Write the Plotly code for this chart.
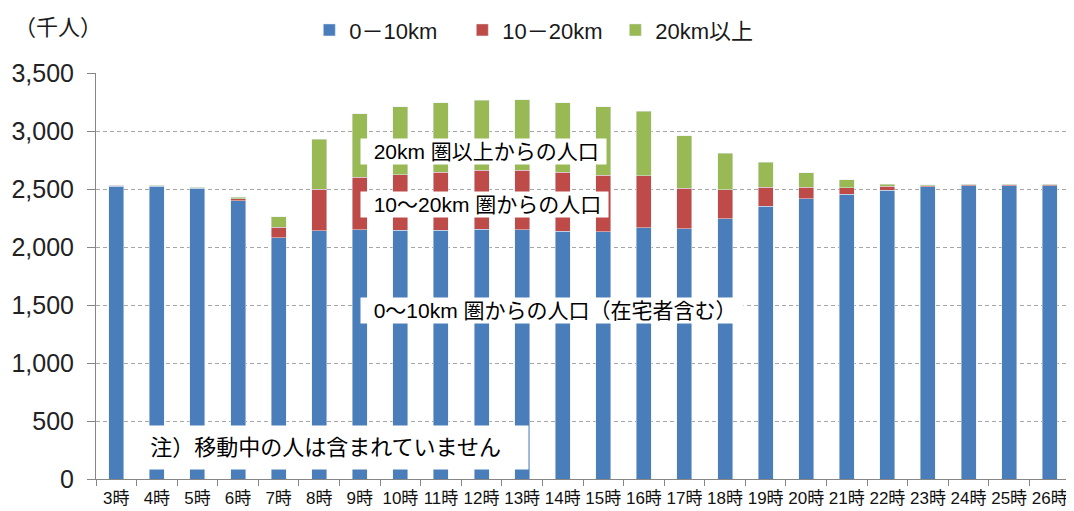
import plotly.graph_objects as go

COLOR_BLUE = "#4A7EBB"
COLOR_RED = "#BE4B48"
COLOR_GREEN = "#98B954"
COLOR_GRID = "#A6A6A6"
COLOR_AXIS = "#868686"
FONT_FAMILY = "Liberation Sans, Noto Sans CJK JP, sans-serif"
NB = "\u00a0"

hours = ["3時", "4時", "5時", "6時", "7時", "8時", "9時", "10時", "11時", "12時", "13時", "14時",
         "15時", "16時", "17時", "18時", "19時", "20時", "21時", "22時", "23時", "24時", "25時", "26時"]

near = [2525, 2522, 2505, 2400, 2080, 2140, 2150, 2145, 2145, 2155, 2150, 2135,
        2130, 2165, 2158, 2245, 2350, 2415, 2455, 2490, 2520, 2528, 2528, 2526]
mid = [6, 6, 5, 15, 90, 360, 450, 480, 500, 505, 510, 510,
       488, 450, 350, 250, 165, 100, 55, 35, 10, 9, 9, 10]
far = [3, 3, 3, 12, 90, 430, 550, 585, 600, 605, 610, 600,
       592, 555, 452, 312, 215, 125, 70, 17, 6, 6, 6, 6]

fig = go.Figure()
fig.add_trace(go.Bar(x=hours, y=near, name="0－10km", marker_color=COLOR_BLUE))
fig.add_trace(go.Bar(x=hours, y=mid, name="10－20km", marker_color=COLOR_RED))
fig.add_trace(go.Bar(x=hours, y=far, name="20km以上", marker_color=COLOR_GREEN))

# page body has an 8px margin, so the figure is drawn 8px smaller than the window
fig.update_layout(
    width=1066, height=503,
    barmode="stack",
    bargap=0.63,
    plot_bgcolor="white",
    paper_bgcolor="white",
    font=dict(family=FONT_FAMILY, color="#1a1a1a"),
    margin=dict(l=88, r=4, t=65, b=32, autoexpand=False),
    legend=dict(orientation="h", x=0.219, y=0.956, yref="container", xanchor="left", yanchor="middle",
                font=dict(size=22), itemwidth=30, entrywidth=108, traceorder="normal"),
    xaxis=dict(showline=True, linecolor=COLOR_AXIS, ticks="outside", tickson="boundaries",
               tickcolor=COLOR_AXIS, ticklen=6, tickfont=dict(size=17, color="#111111"),
               tickangle=0, showgrid=False, ticklabelstandoff=4),
    yaxis=dict(range=[0, 3500], dtick=500, tickformat=",d", showline=True, linecolor=COLOR_AXIS,
               ticks="outside", ticklen=8, tickcolor=COLOR_AXIS,
               gridcolor=COLOR_GRID, griddash="4px,3px", gridwidth=1, zeroline=False,
               tickfont=dict(size=25, color="#222222"), ticklabelstandoff=8),
)

fig.add_annotation(text="（千人）", xref="paper", yref="paper", x=-0.086, y=1.113,
                   xanchor="left", yanchor="middle", showarrow=False, font=dict(size=22))

notes = [
    ("20km 圏以上からの人口", 2820),
    ("10～20km 圏からの人口", 2370),
    ("0～10km 圏からの人口（在宅者含む）", 1450),
]
for text, yv in notes:
    fig.add_annotation(text=NB * 2 + text + NB, xref="x", yref="y", x=6.0, y=yv, xanchor="left",
                       yanchor="middle", showarrow=False, bgcolor="white", borderpad=1,
                       font=dict(size=21, color="black"))

fig.add_annotation(text=NB * 2 + "注）移動中の人は含まれていません" + NB * 3, xref="x", yref="y",
                   x=0.3, y=273, xanchor="left", yanchor="middle", showarrow=False,
                   bgcolor="white", borderpad=9, font=dict(size=22, color="black"))

fig.write_html("out.html")
